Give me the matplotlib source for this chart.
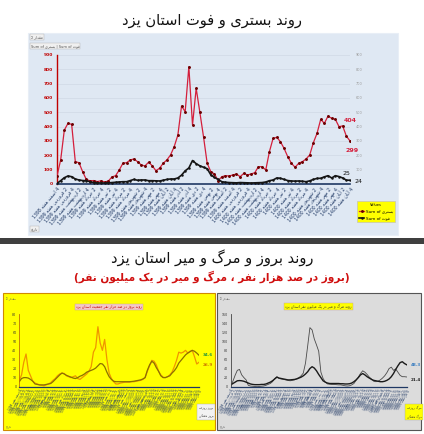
import numpy as np
import matplotlib.pyplot as plt
from matplotlib.patches import Rectangle

plt.rcParams['font.family'] = ['DejaVu Sans']

# ---- data ----
# weekly hospitalised (red) and deaths (black), top chart
hosp = [55, 166, 375, 422, 415, 154, 147, 84, 30, 20,
        22, 15, 20, 12, 18, 47, 56, 96, 143, 147,
        166, 173, 154, 131, 124, 150, 126, 91, 108, 143,
        166, 201, 259, 340, 543, 504, 818, 410, 667, 500,
        329, 143, 84, 68, 21, 49, 56, 54, 61, 68,
        49, 72, 61, 68, 77, 119, 119, 96, 224, 317,
        324, 294, 247, 189, 143, 115, 143, 154, 173, 201,
        287, 352, 450, 422, 473, 457, 450, 399, 404, 333,
        299]
death = [2, 21, 42, 54, 49, 33, 26, 22, 21, 14,
         8, 6, 5, 5, 6, 8, 10, 12, 14, 14,
         22, 30, 24, 26, 26, 21, 21, 20, 19, 24,
         30, 33, 33, 40, 60, 90, 110, 162, 140, 125,
         115, 105, 62, 44, 30, 14, 10, 8, 7, 6,
         8, 7, 6, 5, 6, 7, 8, 12, 21, 26,
         40, 38, 30, 22, 19, 18, 19, 17, 14, 20,
         30, 37, 38, 48, 56, 40, 56, 50, 40, 25,
         24]

# incidence per 100k (left bottom panel)
inc_a = [7, 13, 27, 36, 18, 12, 6, 4, 3, 2,
         1.5, 1, 2, 3, 4.5, 7, 9, 12, 14, 15,
         14.5, 12, 11, 10, 11, 12, 9, 8, 10, 12,
         14, 17, 22, 38, 43, 66, 48, 40, 52, 30,
         15, 9, 5.5, 3, 3, 4, 4.5, 5, 5, 5,
         5.5, 5.5, 6, 6.5, 7, 8, 10, 17, 23, 29,
         28, 24, 17, 13, 10.5, 10, 11, 13, 16, 22,
         29, 38, 37, 38, 40, 37, 39, 40, 33, 25,
         26.9]
inc_b = [5.5, 9, 10, 10, 9.5, 8, 6, 3, 2.5, 2,
         2, 2, 2.5, 3, 3.5, 5.5, 8, 10.5, 13, 15,
         14, 12.5, 11.5, 10.5, 9.5, 9, 10, 11.5, 12.5, 14,
         16, 17, 18, 19, 20.5, 23, 25.5, 25, 22, 16,
         11, 8, 6, 5.5, 5.5, 5.5, 5.5, 5.5, 5.5, 5.5,
         5.7, 6, 6.5, 7, 7.5, 8.5, 10, 18, 24, 28,
         26, 21, 17, 12, 10, 10, 11, 12, 15, 17.5,
         21, 26, 29, 32, 35, 37, 38.5, 40, 39, 37,
         34.6]

# mortality per million (right bottom panel)
mort_a = [1, 12, 25, 36, 38, 26, 20, 15, 3, 1.5,
          1, 0.5, 0, 0.5, 1, 1.5, 3, 5, 7, 11,
          18, 22, 18, 17, 16, 15, 14, 13, 14, 15,
          18, 20, 24, 30, 52, 90, 130, 125, 105, 92,
          78, 32, 18, 10, 6, 5.5, 5, 5, 4.5, 4,
          4, 3, 2, 1.5, 2, 4, 7, 14, 21, 29,
          35, 32, 27, 21, 17, 12, 11, 12, 15, 19,
          24, 31, 40, 43, 36, 39, 32, 25, 22, 22,
          21.4]
mort_b = [4, 7, 10, 13, 13.5, 13, 12, 10, 8, 6,
          5, 4.5, 4.5, 4.5, 5, 5, 6, 8, 10, 13,
          17, 21, 19, 18, 17, 16, 15, 15, 15.5, 16,
          17, 19, 21, 24, 28, 33, 40, 44, 41, 35,
          27, 20, 13, 10, 8, 7, 7, 7, 7, 7,
          6.5, 6.5, 6, 6, 6.5, 8, 11, 15, 20, 26,
          29, 26, 22, 19, 16, 14, 13, 12, 11, 11,
          12, 14, 17, 22, 29, 38, 46, 53, 55, 51,
          48.3]

months = ['فروردین', 'اردیبهشت', 'خرداد', 'تیر', 'مرداد', 'شهریور',
          'مهر', 'آبان', 'آذر', 'دی', 'بهمن', 'اسفند']

# ---- simple persian shaping (presentation forms, right to left) ----
DUAL = {'ب': 0xFE8F, 'پ': 0xFB56, 'ت': 0xFE95, 'ج': 0xFE9D, 'چ': 0xFB7A,
        'ح': 0xFEA1, 'خ': 0xFEA5, 'س': 0xFEB1, 'ش': 0xFEB5, 'ص': 0xFEB9,
        'ط': 0xFEC1, 'ع': 0xFEC9, 'ف': 0xFED1, 'ق': 0xFED5, 'ک': 0xFB8E,
        'گ': 0xFB92, 'ل': 0xFEDD, 'م': 0xFEE1, 'ن': 0xFEE5, 'ه': 0xFEE9,
        'ی': 0xFBFC}
RIGHT = {'ا': 0xFE8D, 'آ': 0xFE81, 'د': 0xFEA9, 'ذ': 0xFEAB, 'ر': 0xFEAD,
         'ز': 0xFEAF, 'ژ': 0xFB8A, 'و': 0xFEED}


def fa(s):
    out = []
    k = 0
    while k < len(s):
        c = s[k]
        prev = s[k - 1] if k > 0 else ''
        nxt = s[k + 1] if k + 1 < len(s) else ''
        pj = prev in DUAL
        if c == 'ل' and nxt in ('ا', 'آ'):
            lig = 0xFEFB if nxt == 'ا' else 0xFEF5
            out.append(chr(lig + (1 if pj else 0)))
            k += 2
            continue
        if c in DUAL:
            nj = nxt in DUAL or nxt in RIGHT
            b = DUAL[c]
            if pj and nj:
                out.append(chr(b + 3))
            elif pj:
                out.append(chr(b + 1))
            elif nj:
                out.append(chr(b + 2))
            else:
                out.append(chr(b))
        elif c in RIGHT:
            out.append(chr(RIGHT[c] + (1 if pj else 0)))
        else:
            out.append(c)
        k += 1
    vis = ''.join(reversed(out))
    return vis.translate(str.maketrans('()', ')('))


week_labels = ['1398 ' + fa('اسفند هفته') + ' 4']
for yr in ['1399', '1400']:
    for m in months:
        for w in range(1, 5):
            week_labels.append(yr + ' ' + fa(m + ' هفته') + ' ' + str(w))
week_labels = week_labels[:len(hosp)]

W, H = 424, 434


def fx(px):
    return px / W


def fy(py):
    return 1 - py / H


def panel(x0, y0, x1, y1, fc, ec):
    # background box drawn behind all axes
    r = Rectangle((fx(x0), fy(y1)), fx(x1 - x0), (y1 - y0) / H, transform=fig.transFigure,
                  facecolor=fc, edgecolor=ec, lw=0.8, zorder=-10)
    fig.add_artist(r)


fig = plt.figure(figsize=(W / 100, H / 100), dpi=100)
fig.patch.set_facecolor('white')

# ---- top section ----
fig.text(0.5, fy(20), fa('روند بستری و فوت استان یزد'), ha='center', va='center',
         fontsize=10.5, color='#111111')
panel(28, 33, 398, 235, '#dfe8f3', '#e8eef6')

x = np.arange(len(hosp))
ax = fig.add_axes([fx(57), fy(183.7), fx(293), (183.7 - 55) / H])
ax.set_facecolor('none')
ax.plot(x, hosp, color='#d41f3c', lw=0.9, marker='o', ms=1.1, mfc='#6b0000', mec='#6b0000',
        label='Sum of ' + fa('بستری'), zorder=3)
ax.set_xlim(0, len(hosp) - 1)
ax.set_ylim(0, 900)
ax.set_yticks(range(0, 901, 100))
ax.tick_params(axis='y', length=0, pad=3, labelsize=3.2, labelcolor='#c00000')
for t in ax.get_yticklabels():
    t.set_fontweight('bold')
ax.grid(axis='y', color='#cdd6e2', lw=0.4)
ax.set_axisbelow(True)
ax.spines['top'].set_visible(False)
ax.spines['right'].set_visible(False)
ax.spines['left'].set_color('#c00000')
ax.spines['left'].set_linewidth(1.0)
ax.spines['bottom'].set_color('#1f3864')
ax.spines['bottom'].set_linewidth(1.2)
ax.set_xticks(x[::2])
ax.set_xticklabels(week_labels[::2], rotation=50, ha='right', va='top',
                   rotation_mode='anchor', fontsize=3.3, color='#1f3864')
ax.tick_params(axis='x', length=0, pad=2)

ax2 = ax.twinx()
ax2.plot(x, death, color='#151515', lw=1.2, marker='o', ms=0.8, mfc='#151515', mec='#151515',
         label='Sum of ' + fa('فوت'), zorder=3)
ax2.set_ylim(0, 900)
ax2.set_yticks(range(100, 901, 100))
ax2.tick_params(axis='y', length=0, pad=4, labelsize=2.5, labelcolor='#9a9a9a')
for s in ax2.spines.values():
    s.set_visible(False)

ax.annotate(str(hosp[78]), (78, hosp[78]), xytext=(1, 3), textcoords='offset points',
            fontsize=4.5, color='#d41f3c', fontweight='bold')
ax.annotate(str(hosp[-1]), (80, hosp[-1]), xytext=(-3, -8), textcoords='offset points',
            fontsize=4.5, color='#d41f3c', fontweight='bold')
ax2.annotate(str(death[79]), (79, death[79]), xytext=(-3, 4), textcoords='offset points',
             fontsize=4.5, color='#151515')
ax2.annotate(str(death[-1]), (80, death[-1]), xytext=(3, -2), textcoords='offset points',
             fontsize=4.5, color='#151515')

h1, l1 = ax.get_legend_handles_labels()
h2, l2 = ax2.get_legend_handles_labels()
leg = fig.legend(h1 + h2, l1 + l2, loc='upper left', bbox_to_anchor=(fx(355), fy(199)),
                 fontsize=3.0, title='Values', title_fontsize=2.6, facecolor='#ffff00',
                 edgecolor='#bbbbbb', fancybox=False, framealpha=1, handlelength=1.2,
                 borderpad=0.5, labelspacing=0.6, handletextpad=0.4)
leg.get_frame().set_linewidth(0.4)

fig.text(fx(31), fy(37), 'Σ ' + fa('مقدار'), fontsize=2.6, color='#555555', va='center',
         bbox=dict(boxstyle='square,pad=0.2', fc='#f0f0f0', ec='#b0b0b0', lw=0.3))
fig.text(fx(31), fy(46), 'Sum of ' + fa('بستری') + ' | Sum of ' + fa('فوت'), fontsize=2.6,
         color='#555555', va='center',
         bbox=dict(boxstyle='square,pad=0.2', fc='#f0f0f0', ec='#b0b0b0', lw=0.3))
fig.text(fx(31), fy(229), fa('تاریخ'), fontsize=2.6, color='#555555', va='center',
         bbox=dict(boxstyle='square,pad=0.2', fc='#f0f0f0', ec='#b0b0b0', lw=0.3))

# ---- separator ----
panel(0, 238.3, 424, 244.3, '#3f3f3f', 'none')

# ---- bottom section ----
fig.text(0.5, fy(258), fa('روند بروز و مرگ و میر استان یزد'), ha='center', va='center',
         fontsize=10.5, color='#111111')
fig.text(0.5, fy(277), fa('(بروز در صد هزار نفر ، مرگ و میر در یک میلیون نفر)'),
         ha='center', va='center', fontsize=7.6, color='#d01010', fontweight='bold')

panel(3, 293, 215, 430, '#ffff00', '#d08a00')
panel(217, 293, 421, 430, '#dcdcdc', '#555555')


def small_panel(rect, ya, yb, ymax, ca, cb, wa, wb, la, lb, lab_a, lab_b, title, tbox, lbox, axc):
    a = fig.add_axes(rect)
    a.set_facecolor('none')
    a.plot(x, ya, color=ca, lw=wa)
    a.plot(x, yb, color=cb, lw=wb)
    a.set_xlim(0, len(x) - 1)
    a.set_ylim(0, ymax)
    a.set_yticks(np.linspace(0, ymax, 9))
    a.set_yticklabels([str(int(v)) for v in np.linspace(0, ymax, 9)])
    a.tick_params(axis='y', length=0, pad=2, labelsize=2.3, labelcolor='#333333')
    a.set_xticks(x)
    a.set_xticklabels(week_labels, rotation=60, ha='right', va='top',
                      rotation_mode='anchor', fontsize=2.1, color='#1f3864')
    a.tick_params(axis='x', length=0, pad=1.5)
    a.spines['top'].set_visible(False)
    a.spines['right'].set_visible(False)
    a.spines['left'].set_color(axc)
    a.spines['left'].set_linewidth(0.6)
    a.spines['bottom'].set_color('#1f3864')
    a.spines['bottom'].set_linewidth(0.9)
    a.annotate(f'{yb[-1]:.1f}', (80, yb[-1]), xytext=(3, 0), textcoords='offset points',
               fontsize=3, color=lb, va='center', fontweight='bold')
    a.annotate(f'{ya[-1]:.1f}', (80, ya[-1]), xytext=(3, -2), textcoords='offset points',
               fontsize=3, color=la, va='center', fontweight='bold')
    a.text(0.5, 1.1, fa(title), transform=a.transAxes, ha='center', va='center',
           fontsize=2.6, color=tbox[1],
           bbox=dict(boxstyle='square,pad=0.3', fc=tbox[0], ec='#c0a0a0', lw=0.3))
    a.text(1.0, -0.35, fa(lab_a) + '\n\n' + fa(lab_b), transform=a.transAxes, ha='left',
           va='center', fontsize=2.2, color='#333333',
           bbox=dict(boxstyle='square,pad=0.5', fc=lbox, ec='#aaaaaa', lw=0.3))
    return a


small_panel([fx(19.3), fy(386.7), fx(179.7), (386.7 - 314) / H], inc_a, inc_b, 80,
            '#ef9500', '#8c7000', 0.9, 0.9, '#cc7a00', '#2e9a3a',
            'بروز روزانه', 'بروز هفتگی', 'روند بروز در صد هزار نفر جمعیت استان یزد',
            ('#f4c8c8', '#c00000'), '#f2f2f2', '#c07000')
small_panel([fx(230.7), fy(386.7), fx(176), (386.7 - 314) / H], mort_a, mort_b, 160,
            '#4a4a4a', '#1a1a1a', 0.6, 1.0, '#222222', '#3d7fc1',
            'مرگ روزانه', 'مرگ هفتگی', 'روند مرگ و میر در یک میلیون نفر استان یزد',
            ('#ffff00', '#333333'), '#ffff00', '#444444')

fig.text(fx(6), fy(298), 'Σ ' + fa('مقدار'), fontsize=2.2, color='#555555', va='center')
fig.text(fx(6), fy(426), fa('تاریخ'), fontsize=2.2, color='#555555', va='center')
fig.text(fx(220), fy(298), 'Σ ' + fa('مقدار'), fontsize=2.2, color='#555555', va='center')
fig.text(fx(220), fy(426), fa('تاریخ'), fontsize=2.2, color='#555555', va='center')

fig.savefig('out.png', dpi=100)
